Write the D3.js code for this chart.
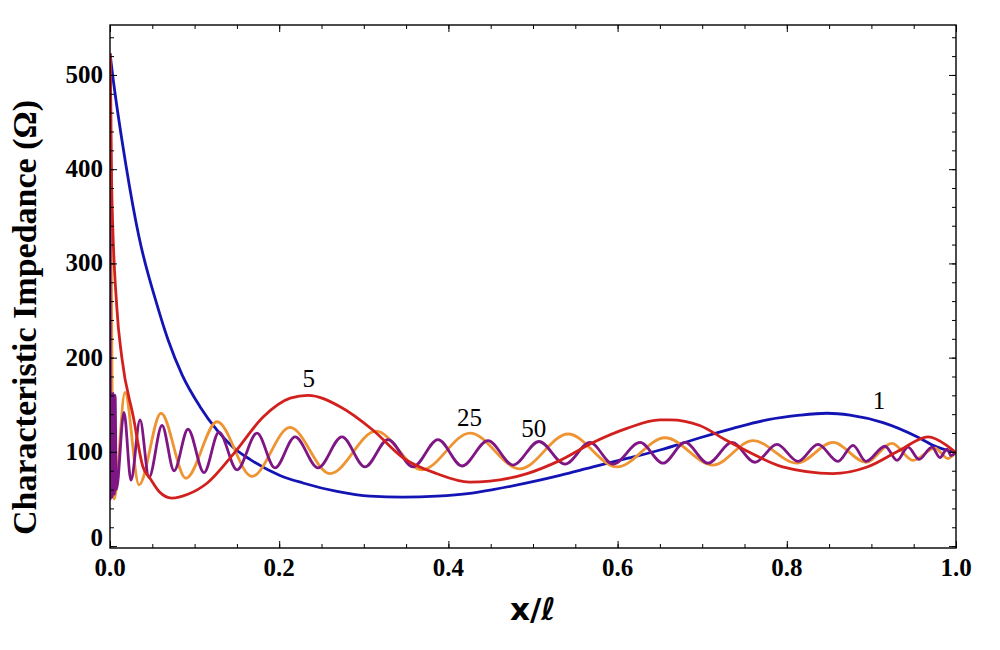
<!DOCTYPE html>
<html>
<head>
<meta charset="utf-8">
<script src="https://cdn.jsdelivr.net/npm/d3@7"></script>
<style>
  body { margin: 0; background: #fff; }
  svg { display: block; }
</style>
</head>
<body>
<svg id="chart" width="1000" height="650"></svg>
<script>
// values, [x/l, ohm]
var series1 = [[0,523],[0.0024,505],[0.0189,404],[0.0343,328],[0.0556,256],[0.0686,219],[0.0851,182],
  [0.1064,148],[0.1265,123],[0.1454,105],[0.1655,92],[0.2009,75],[0.2281,67],[0.2683,58],[0.3073,53],
  [0.3463,52],[0.3865,53],[0.4255,56],[0.4527,60],[0.4929,67],[0.5319,75],[0.5709,84],[0.6111,93],
  [0.6501,102],[0.6974,115],[0.7364,125],[0.7766,134],[0.8156,139],[0.8475,141],[0.8747,139],
  [0.9137,131],[0.9539,116],[0.9728,107],[1,99]];

var series5 = [[0,523],[0.001,466],[0.002,381],[0.008,254],[0.014,200],[0.0276,137],[0.039,84],[0.0473,72],
  [0.058,58],[0.073,51],[0.092,55],[0.115,67],[0.147,99],[0.181,137],[0.213,157],[0.234,160],[0.272,148],
  [0.311,123],[0.346,94],[0.386,77],[0.425,68],[0.449,69],[0.493,77],[0.532,91],[0.571,110],[0.611,125],
  [0.650,134],[0.662,134],[0.697,128],[0.729,112],[0.757,99],[0.795,84],[0.854,77],[0.895,84],
  [0.934,102],[0.967,116],[0.989,107],[1,99]];

var series25 = [[0,520],[0.005,50],[0.0177,163],[0.0343,65],[0.0603,141],[0.0898,72],[0.1265,132],
  [0.1678,74],[0.2128,126],[0.26,77],[0.3144,122],[0.3688,81],[0.4255,120],[0.4846,82],[0.5414,119],
  [0.5993,84],[0.656,115],[0.7128,86],[0.76,112],[0.8121,88],[0.8546,110],[0.8936,89],[0.9244,109],
  [0.9492,91],[0.9752,104],[0.9905,93],[1,100]];

var series50 = [[0,520],[0.0006,50],[0.0015,162],[0.0026,52],[0.0038,162],[0.0052,55],[0.006,160],
  [0.0075,60],[0.0165,142],[0.0248,70],[0.0355,134],[0.0461,73],[0.0615,128],[0.0757,80],[0.0922,124],
  [0.1111,78],[0.1288,121],[0.1501,81],[0.1738,120],[0.195,83],[0.2187,116],[0.2459,83],[0.2742,116],
  [0.3014,84],[0.3286,113],[0.3582,84],[0.3877,113],[0.4161,85],[0.4468,112],[0.4764,86],[0.5071,111],
  [0.5378,87],[0.5674,110],[0.5946,87],[0.6265,110],[0.6537,88],[0.6797,110],[0.7069,88],[0.7352,110],
  [0.7624,89],[0.7884,108],[0.8132,90],[0.8369,108],[0.8605,90],[0.8783,107],[0.8936,90],[0.9161,106],
  [0.9303,91],[0.9433,105],[0.9563,92],[0.9716,105],[0.9811,94],[0.9894,103],[0.9941,96],[1,100]];

var seriesNames = ["1", "25", "50", "5"];
var seriesColors = ["#1414b4", "#ee9432", "#7e1684", "#d2201e"];
// where each curve's label sits, [x/l, ohm]
var labelPos = [[0.909, 145], [0.425, 127], [0.501, 116], [0.235, 169]];

var xTicks = [0, 0.2, 0.4, 0.6, 0.8, 1.0];
var yTicks = [0, 100, 200, 300, 400, 500];

var mLeft = 110, mRight = 956, mTop = 25, mBottom = 548;

var svg = d3.select("#chart");

var x = d3.scaleLinear().domain([0, 1]).range([mLeft, mRight]);
var y = d3.scaleLinear().domain([-2, 553]).range([mBottom, mTop]);

svg.append("clipPath").attr("id", "clip")
  .append("rect").attr("x", mLeft).attr("y", mTop).attr("width", mRight - mLeft).attr("height", mBottom - mTop);

var line = d3.line()
  .x(function(d){ return x(d[0]); })
  .y(function(d){ return y(d[1]); })
  .curve(d3.curveMonotoneX);

var allSeries = [series1, series25, series50, series5];
var g = svg.append("g").attr("clip-path", "url(#clip)");
allSeries.forEach(function(s, i){
  g.append("path")
    .attr("d", line(s))
    .attr("fill", "none")
    .attr("stroke", seriesColors[i])
    .attr("stroke-width", 2.8)
    .attr("stroke-linejoin", "round");
});

// frame with ticks on all four sides
var xMinor = d3.range(0, 1.0001, 0.05);
var yMinor = d3.range(0, 551, 20);

function frameTicks(axis, vals, size){
  return axis.tickValues(vals).tickSize(size).tickFormat("");
}

var tickStyle = function(sel){
  sel.select(".domain").remove();
  sel.selectAll("line").attr("stroke", "#000").attr("stroke-width", 1);
};

svg.append("g").attr("transform", "translate(0," + mBottom + ")")
  .call(frameTicks(d3.axisTop(x), xMinor, 4)).call(tickStyle);
svg.append("g").attr("transform", "translate(0," + mBottom + ")")
  .call(frameTicks(d3.axisTop(x), xTicks, 7)).call(tickStyle);
svg.append("g").attr("transform", "translate(0," + mTop + ")")
  .call(frameTicks(d3.axisBottom(x), xMinor, 4)).call(tickStyle);
svg.append("g").attr("transform", "translate(0," + mTop + ")")
  .call(frameTicks(d3.axisBottom(x), xTicks, 7)).call(tickStyle);
svg.append("g").attr("transform", "translate(" + mLeft + ",0)")
  .call(frameTicks(d3.axisRight(y), yMinor, 4)).call(tickStyle);
svg.append("g").attr("transform", "translate(" + mLeft + ",0)")
  .call(frameTicks(d3.axisRight(y), yTicks, 7)).call(tickStyle);
svg.append("g").attr("transform", "translate(" + mRight + ",0)")
  .call(frameTicks(d3.axisLeft(y), yMinor, 4)).call(tickStyle);
svg.append("g").attr("transform", "translate(" + mRight + ",0)")
  .call(frameTicks(d3.axisLeft(y), yTicks, 7)).call(tickStyle);

svg.append("rect")
  .attr("x", mLeft).attr("y", mTop).attr("width", mRight - mLeft).attr("height", mBottom - mTop)
  .attr("fill", "none").attr("stroke", "#000").attr("stroke-width", 1.4);

// tick labels
var serif = "'Liberation Serif', 'Times New Roman', serif";
svg.append("g").selectAll("text").data(xTicks).join("text")
  .attr("x", function(d){ return x(d); })
  .attr("y", mBottom + 28)
  .attr("text-anchor", "middle")
  .attr("font-family", serif).attr("font-weight", "bold").attr("font-size", 25)
  .text(function(d){ return d3.format(".1f")(d); });

svg.append("g").selectAll("text").data(yTicks).join("text")
  .attr("x", mLeft - 7)
  .attr("y", function(d){ return y(d) + (d === 0 ? 0 : 8); })
  .attr("text-anchor", "end")
  .attr("font-family", serif).attr("font-weight", "bold").attr("font-size", 25)
  .text(function(d){ return d; });

// axis titles
svg.append("text")
  .attr("x", x(0.5)).attr("y", 620)
  .attr("text-anchor", "middle")
  .attr("font-family", "'DejaVu Sans', Verdana, sans-serif").attr("font-weight", "bold").attr("font-size", 31)
  .text("x/\u2113");

svg.append("text")
  .attr("transform", "translate(36," + ((mTop + mBottom) / 2 + 31) + ") rotate(-90)")
  .attr("text-anchor", "middle")
  .attr("font-family", serif).attr("font-weight", "bold").attr("font-size", 34)
  .text("Characteristic Impedance (\u03A9)");

// curve labels
svg.append("g").selectAll("text").data(labelPos).join("text")
  .attr("x", function(d){ return x(d[0]); })
  .attr("y", function(d){ return y(d[1]); })
  .attr("text-anchor", "middle")
  .attr("font-family", serif).attr("font-size", 25)
  .text(function(d, i){ return seriesNames[i]; });
</script>
</body>
</html>
